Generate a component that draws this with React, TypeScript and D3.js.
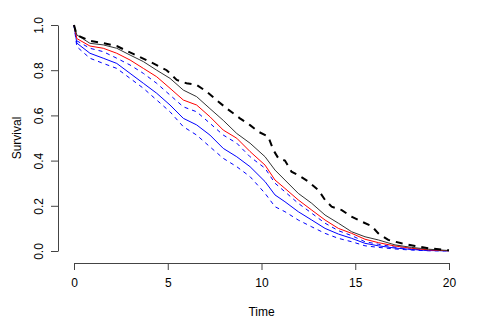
import React, { useRef, useEffect } from "react";
import * as d3 from "d3";

// time grid shared by five of the curves
const times = [0, 0.15, 0.85, 1.56, 2.28, 2.99, 3.7, 4.41, 5.12, 5.83, 6.54, 7.25, 7.96, 8.68, 9.39, 10.19, 10.72, 11.25, 11.96, 12.68, 13.39, 14.1, 14.81, 15.52, 16.23, 17.12, 18.0, 18.9, 20];

const blackSolid = [1, 0.956, 0.919, 0.912, 0.897, 0.867, 0.838, 0.8, 0.764, 0.712, 0.683, 0.63, 0.578, 0.52, 0.477, 0.417, 0.358, 0.314, 0.255, 0.211, 0.159, 0.123, 0.085, 0.063, 0.049, 0.027, 0.016, 0.008, 0.002];
const redSolid = [1, 0.94, 0.907, 0.897, 0.875, 0.845, 0.808, 0.771, 0.72, 0.668, 0.646, 0.594, 0.535, 0.499, 0.44, 0.38, 0.314, 0.277, 0.226, 0.181, 0.137, 0.1, 0.078, 0.052, 0.037, 0.022, 0.012, 0.005, 0.001];
const blueUpper = [1, 0.93, 0.897, 0.882, 0.853, 0.823, 0.786, 0.742, 0.69, 0.638, 0.616, 0.565, 0.513, 0.477, 0.417, 0.366, 0.3, 0.262, 0.211, 0.167, 0.123, 0.09, 0.068, 0.041, 0.03, 0.017, 0.008, 0.003, 0.001];
const blueSolid = [1, 0.92, 0.875, 0.853, 0.83, 0.786, 0.742, 0.698, 0.646, 0.587, 0.558, 0.513, 0.454, 0.417, 0.373, 0.307, 0.248, 0.218, 0.174, 0.137, 0.1, 0.075, 0.056, 0.034, 0.023, 0.013, 0.007, 0.002, 0.001];
const blueLower = [1, 0.904, 0.853, 0.83, 0.808, 0.764, 0.72, 0.668, 0.616, 0.55, 0.513, 0.461, 0.41, 0.373, 0.329, 0.255, 0.196, 0.174, 0.137, 0.107, 0.078, 0.056, 0.041, 0.023, 0.016, 0.009, 0.004, 0.001, 0];

// the thick dashed black curve has its own steps
const dashTimes = [0, 0.14, 0.85, 1.56, 2.28, 3.16, 4.23, 4.94, 5.48, 6.0, 6.54, 7.08, 7.6, 8.14, 8.85, 9.39, 9.83, 10.36, 10.63, 10.9, 11.25, 11.6, 11.96, 12.5, 13.03, 13.39, 13.74, 14.28, 14.8, 15.34, 15.88, 16.23, 16.76, 17.47, 18.19, 18.9, 20];
const blackDashed = [1, 0.956, 0.93, 0.92, 0.907, 0.872, 0.83, 0.8, 0.757, 0.742, 0.735, 0.705, 0.668, 0.631, 0.587, 0.557, 0.528, 0.506, 0.447, 0.41, 0.4, 0.351, 0.336, 0.307, 0.27, 0.226, 0.196, 0.181, 0.152, 0.13, 0.11, 0.078, 0.049, 0.034, 0.022, 0.012, 0.003];

const xTicks = [0, 5, 10, 15, 20];
const yTicks = [0, 0.2, 0.4, 0.6, 0.8, 1.0];

const App = () => {
  const svgRef = useRef(null);
  const width = 480;
  const height = 320;

  useEffect(() => {
    const svg = d3.select(svgRef.current);
    svg.selectAll("*").remove();

    const x = d3.scaleLinear().domain([0, 20]).range([74, 449]);
    const y = d3.scaleLinear().domain([0, 1]).range([251, 25]);

    const line = d3
      .line()
      .x((d) => x(d[0]))
      .y((d) => y(d[1]));

    const series = [
      { t: times, v: blueLower, color: "#0000ff", w: 1, dash: "4,4" },
      { t: times, v: blueUpper, color: "#0000ff", w: 1, dash: "4,4" },
      { t: times, v: blueSolid, color: "#0000ff", w: 1, dash: null },
      { t: times, v: redSolid, color: "#ff0000", w: 1, dash: null },
      { t: times, v: blackSolid, color: "#333333", w: 1, dash: null },
      { t: dashTimes, v: blackDashed, color: "#000000", w: 2, dash: "7,6" },
    ];

    svg
      .append("g")
      .selectAll("path")
      .data(series)
      .enter()
      .append("path")
      .attr("d", (s) => line(s.t.map((t, i) => [t, s.v[i]])))
      .attr("fill", "none")
      .attr("stroke", (s) => s.color)
      .attr("stroke-width", (s) => s.w)
      .attr("stroke-dasharray", (s) => s.dash);

    // x axis
    const gx = svg
      .append("g")
      .attr("transform", "translate(0,263)")
      .call(d3.axisBottom(x).tickValues(xTicks).tickSize(7).tickSizeOuter(0).tickPadding(8));
    gx.selectAll("text").attr("font-size", 12);

    // y axis, labels turned like R does
    const gy = svg
      .append("g")
      .attr("transform", "translate(58,0)")
      .call(
        d3
          .axisLeft(y)
          .tickValues(yTicks)
          .tickFormat(d3.format(".1f"))
          .tickSize(7)
          .tickSizeOuter(0)
      );
    gy.selectAll("text")
      .attr("font-size", 12)
      .attr("x", 0)
      .attr("y", -15)
      .attr("dy", 0)
      .attr("text-anchor", "middle")
      .attr("transform", "rotate(-90)");

    svg.selectAll(".domain, .tick line").attr("stroke", "#444");
    svg.selectAll(".tick text").attr("fill", "#000").attr("font-family", "Liberation Sans, Arial, sans-serif");

    svg
      .append("text")
      .attr("x", 261.5)
      .attr("y", 316)
      .attr("text-anchor", "middle")
      .attr("font-size", 12)
      .text("Time");

    svg
      .append("text")
      .attr("transform", "translate(21,138) rotate(-90)")
      .attr("text-anchor", "middle")
      .attr("font-size", 12)
      .text("Survival");
  }, []);

  return (
    <svg
      ref={svgRef}
      width={width}
      height={height}
      style={{ position: "absolute", left: 0, top: 0, background: "#fff", fontFamily: "Liberation Sans, Arial, sans-serif" }}
    />
  );
};

export default App;
